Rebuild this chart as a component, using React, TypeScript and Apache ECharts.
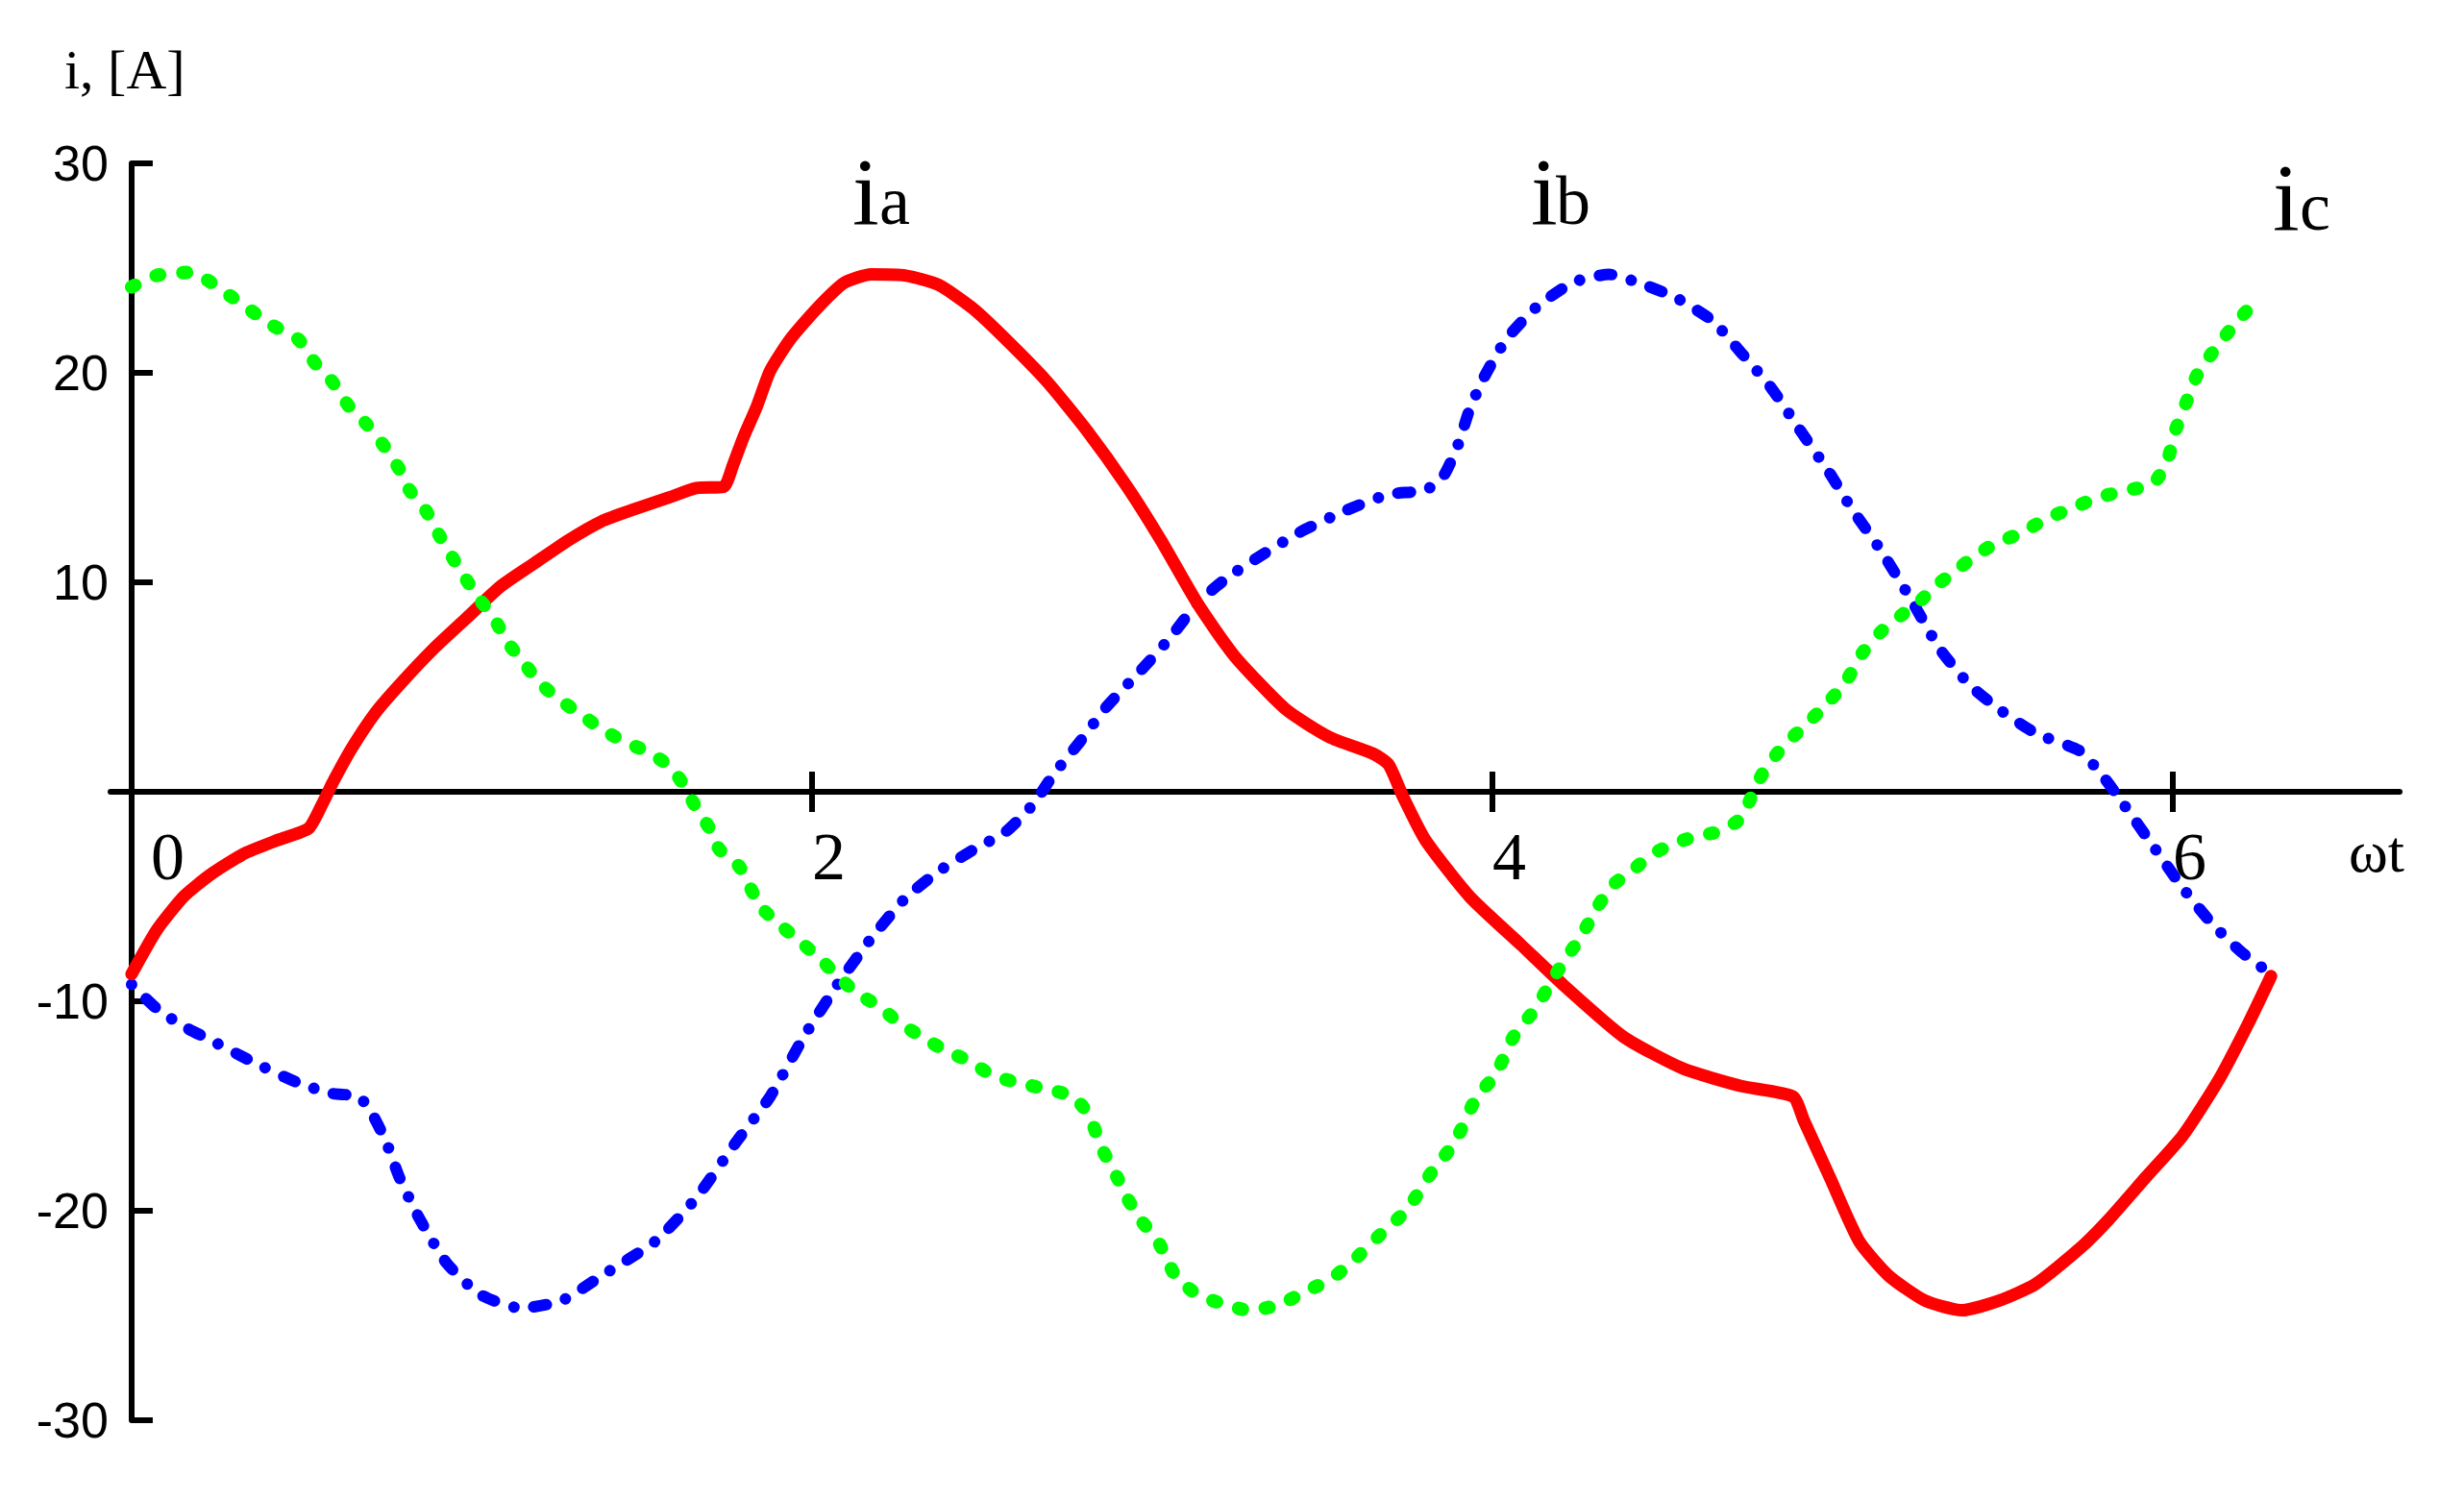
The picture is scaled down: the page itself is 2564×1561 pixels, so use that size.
import { useEffect, useRef } from "react";
import * as echarts from "echarts";

// Phase current i_a (red, solid)
const iaX = [0, 0.074, 0.153, 0.232, 0.331, 0.43, 0.52, 0.56, 0.59, 0.648, 0.718, 0.787, 0.886, 0.985, 1.084, 1.183, 1.283, 1.38, 1.48, 1.58, 1.66, 1.74, 1.768, 1.798, 1.838, 1.877, 1.936, 2.016, 2.095, 2.174, 2.273, 2.372, 2.471, 2.57, 2.69, 2.808, 2.927, 3.026, 3.133, 3.241, 3.392, 3.522, 3.652, 3.695, 3.738, 3.803, 3.933, 4.084, 4.214, 4.386, 4.559, 4.732, 4.884, 4.916, 4.992, 5.078, 5.165, 5.273, 5.381, 5.489, 5.597, 5.727, 5.813, 5.921, 6.03, 6.137, 6.224, 6.289];
const iaY = [-8.7, -6.6, -5.0, -3.95, -2.95, -2.3, -1.75, -0.6, 0.4, 2.1, 3.8, 5.1, 6.8, 8.3, 9.8, 10.9, 12.0, 12.9, 13.5, 14.05, 14.5, 14.55, 15.6, 16.9, 18.4, 20.1, 21.6, 23.1, 24.3, 24.7, 24.65, 24.2, 23.1, 21.6, 19.6, 17.25, 14.55, 12.0, 9.0, 6.5, 3.95, 2.6, 1.8, 1.3, -0.25, -2.3, -5.0, -7.3, -9.3, -11.7, -13.2, -14.05, -14.55, -15.7, -18.4, -21.45, -23.1, -24.3, -24.75, -24.3, -23.5, -21.8, -20.4, -18.4, -16.4, -13.7, -11.0, -8.8];

// Phase current i_b (blue, dash-dot)
const ibX = [0, 0.074, 0.153, 0.232, 0.351, 0.49, 0.589, 0.668, 0.708, 0.748, 0.787, 0.847, 0.926, 1.025, 1.144, 1.263, 1.382, 1.54, 1.659, 1.778, 1.877, 1.976, 2.075, 2.174, 2.273, 2.372, 2.471, 2.57, 2.65, 2.709, 2.788, 2.868, 2.967, 3.05, 3.133, 3.219, 3.327, 3.435, 3.565, 3.695, 3.803, 3.857, 3.9, 3.933, 3.976, 4.041, 4.127, 4.235, 4.343, 4.43, 4.538, 4.646, 4.732, 4.819, 4.905, 4.992, 5.057, 5.143, 5.23, 5.316, 5.403, 5.489, 5.597, 5.727, 5.792, 5.856, 5.943, 6.03, 6.116, 6.202, 6.289];
const ibY = [-9.2, -10.35, -11.2, -11.85, -12.85, -13.9, -14.4, -14.55, -15.4, -16.7, -18.4, -20.4, -22.5, -24.0, -24.65, -24.3, -23.1, -21.45, -19.4, -16.7, -14.55, -11.7, -9.2, -7.0, -5.1, -3.8, -2.8, -1.9, -0.6, 0.8, 2.4, 4.1, 5.8, 7.3, 9.0, 10.2, 11.35, 12.4, 13.4, 14.2, 14.4, 15.1, 16.6, 18.25, 19.8, 21.6, 23.1, 24.3, 24.7, 24.3, 23.6, 22.5, 20.95, 19.3, 17.25, 15.2, 13.5, 11.5, 9.2, 6.8, 5.1, 3.95, 2.8, 1.95, 0.8, -0.6, -2.6, -4.6, -6.3, -7.65, -8.7];

// Phase current i_c (green, dotted)
const icX = [0, 0.074, 0.173, 0.292, 0.41, 0.49, 0.54, 0.589, 0.639, 0.688, 0.738, 0.787, 0.817, 0.866, 0.906, 0.956, 1.015, 1.065, 1.104, 1.154, 1.193, 1.253, 1.312, 1.372, 1.441, 1.511, 1.58, 1.62, 1.659, 1.699, 1.728, 1.788, 1.847, 1.917, 1.976, 2.026, 2.075, 2.135, 2.194, 2.254, 2.323, 2.392, 2.462, 2.531, 2.61, 2.69, 2.769, 2.818, 2.848, 2.888, 2.927, 2.967, 3.017, 3.068, 3.133, 3.219, 3.284, 3.371, 3.457, 3.522, 3.587, 3.673, 3.749, 3.824, 3.889, 3.954, 4.008, 4.062, 4.127, 4.17, 4.214, 4.257, 4.311, 4.354, 4.408, 4.473, 4.538, 4.603, 4.667, 4.732, 4.765, 4.797, 4.851, 4.905, 4.959, 5.035, 5.089, 5.143, 5.208, 5.251, 5.305, 5.359, 5.413, 5.478, 5.554, 5.63, 5.705, 5.781, 5.867, 5.943, 5.986, 6.008, 6.04, 6.073, 6.116, 6.181, 6.257];
const icY = [24.1, 24.65, 24.8, 23.65, 22.3, 21.6, 20.45, 19.6, 18.4, 17.6, 16.6, 15.4, 14.4, 13.4, 12.2, 10.85, 9.35, 8.3, 7.15, 6.15, 5.3, 4.45, 3.8, 3.1, 2.45, 1.95, 1.25, 0.4, -0.75, -1.75, -2.75, -3.6, -5.45, -6.5, -7.3, -8.0, -8.8, -9.65, -10.2, -11.0, -11.7, -12.35, -12.85, -13.55, -13.9, -14.2, -14.55, -15.55, -16.9, -18.1, -19.4, -20.45, -21.45, -23.1, -24.0, -24.5, -24.75, -24.5, -23.8, -23.3, -22.45, -21.1, -19.95, -18.1, -16.75, -14.55, -13.55, -11.7, -10.35, -9.15, -8.0, -7.0, -5.45, -4.45, -3.8, -2.95, -2.45, -2.1, -1.9, -1.25, -0.1, 0.95, 2.1, 2.95, 3.8, 5.15, 6.65, 7.65, 8.5, 9.0, 9.85, 10.5, 11.2, 11.85, 12.35, 13.05, 13.55, 14.05, 14.4, 14.7, 15.9, 17.25, 18.6, 19.95, 20.95, 22.3, 23.65];

const xTickValues = [2, 4, 6];
const xLabelValues = [0, 2, 4, 6];
const xMin = -0.062;
const xMax = 6.667;
const yMin = -30;
const yMax = 30;
const yStep = 10;

const zip = (xs: number[], ys: number[]) => xs.map((x, i) => [x, ys[i]]);

const SERIF = '"Liberation Serif", "Times New Roman", serif';
const SANS = '"Liberation Sans", Arial, sans-serif';

// layout (pixels)
const GRID_LEFT = 115;
const GRID_RIGHT = 67;
const GRID_TOP = 170;
const GRID_BOTTOM = 83;
const CHART_W = 2564;
const CHART_H = 1561;

export default function App() {
  const ref = useRef<HTMLDivElement>(null);
  useEffect(() => {
    const chart = echarts.init(ref.current!, null, { renderer: "svg" });
    const tickStyle = { color: "#000", width: 6 };
    // labels are laid out from the grid edges; shift them to the zero lines
    const plotH = CHART_H - GRID_TOP - GRID_BOTTOM;
    const zeroFromBottom = plotH * ((0 - yMin) / (yMax - yMin));
    const xZeroFromLeft = ((0 - xMin) / (xMax - xMin)) * (CHART_W - GRID_LEFT - GRID_RIGHT);
    chart.setOption({
      animation: false,
      backgroundColor: "#ffffff",
      grid: { left: GRID_LEFT, right: GRID_RIGHT, top: GRID_TOP, bottom: GRID_BOTTOM, containLabel: false },
      xAxis: [
        {
          type: "value",
          min: xMin,
          max: xMax,
          position: "bottom",
          axisLine: { show: true, onZero: true, onZeroAxisIndex: 0, lineStyle: { color: "#000", width: 6 } },
          axisTick: { show: true, customValues: xTickValues, length: 21, inside: false, lineStyle: tickStyle },
          axisLabel: {
            show: true,
            customValues: xLabelValues,
            align: "left",
            margin: 32 - zeroFromBottom,
            color: "#000",
            fontFamily: SERIF,
            fontSize: 70,
            formatter: (v: number) => (v === 0 ? "{z|0}" : String(v)),
            rich: { z: { padding: [0, 0, 0, 20], fontFamily: SERIF, fontSize: 70, color: "#000" } },
          },
          splitLine: { show: false },
        },
        {
          type: "value",
          min: xMin,
          max: xMax,
          position: "top",
          axisLine: { show: false, onZero: true, onZeroAxisIndex: 0 },
          axisTick: { show: true, customValues: xTickValues, length: 21, inside: false, lineStyle: tickStyle },
          axisLabel: { show: false },
          splitLine: { show: false },
        },
      ],
      yAxis: {
        type: "value",
        min: yMin,
        max: yMax,
        interval: yStep,
        axisLine: { show: true, onZero: true, lineStyle: { color: "#000", width: 6 } },
        axisTick: { show: true, inside: true, length: 22, lineStyle: tickStyle },
        axisLabel: {
          margin: 24 - xZeroFromLeft,
          color: "#000",
          fontFamily: SANS,
          fontSize: 52,
          padding: [14, 0, 0, 0],
          formatter: (v: number) => (v === 0 ? "" : String(v)),
        },
        splitLine: { show: false },
      },
      series: [
        {
          type: "line",
          name: "ib",
          xAxisIndex: 0,
          data: zip(ibX, ibY),
          showSymbol: false,
          symbol: "none",
          smooth: 0.2,
          lineStyle: { color: "#0000ff", width: 12, type: [0.01, 21, 13, 21], cap: "round", join: "round" },
          z: 2,
        },
        {
          type: "line",
          name: "ia",
          xAxisIndex: 0,
          data: zip(iaX, iaY),
          showSymbol: false,
          symbol: "none",
          smooth: 0.2,
          lineStyle: { color: "#ff0000", width: 13, type: "solid", cap: "round", join: "round" },
          z: 3,
        },
        {
          type: "line",
          name: "ic",
          xAxisIndex: 0,
          data: zip(icX, icY),
          showSymbol: false,
          symbol: "none",
          smooth: 0.2,
          lineStyle: { color: "#00ff00", width: 14, type: [4, 24], cap: "round", join: "round" },
          z: 4,
        },
      ],
      graphic: [
        { type: "text", x: 67, y: 72, style: { text: "i, [A]", fontFamily: SERIF, fontSize: 58, fill: "#000", verticalAlign: "middle", align: "left" } },
        { type: "text", x: 2444, y: 886, style: { text: "ωt", fontFamily: SERIF, fontSize: 62, fill: "#000", verticalAlign: "middle", align: "left" } },
        { type: "text", x: 887, y: 199, style: { text: "i", fontFamily: SERIF, fontSize: 100, fill: "#000", verticalAlign: "middle", align: "left" } },
        { type: "text", x: 915, y: 209, style: { text: "a", fontFamily: SERIF, fontSize: 72, fill: "#000", verticalAlign: "middle", align: "left" } },
        { type: "text", x: 1593, y: 199, style: { text: "i", fontFamily: SERIF, fontSize: 100, fill: "#000", verticalAlign: "middle", align: "left" } },
        { type: "text", x: 1619, y: 209, style: { text: "b", fontFamily: SERIF, fontSize: 72, fill: "#000", verticalAlign: "middle", align: "left" } },
        { type: "text", x: 2365, y: 205, style: { text: "i", fontFamily: SERIF, fontSize: 100, fill: "#000", verticalAlign: "middle", align: "left" } },
        { type: "text", x: 2393, y: 215, style: { text: "c", fontFamily: SERIF, fontSize: 72, fill: "#000", verticalAlign: "middle", align: "left" } },
      ],
    });
    return () => chart.dispose();
  }, []);
  return (
    <div
      ref={ref}
      style={{ position: "fixed", left: 0, top: 0, width: CHART_W, height: CHART_H, background: "#ffffff" }}
    />
  );
}
